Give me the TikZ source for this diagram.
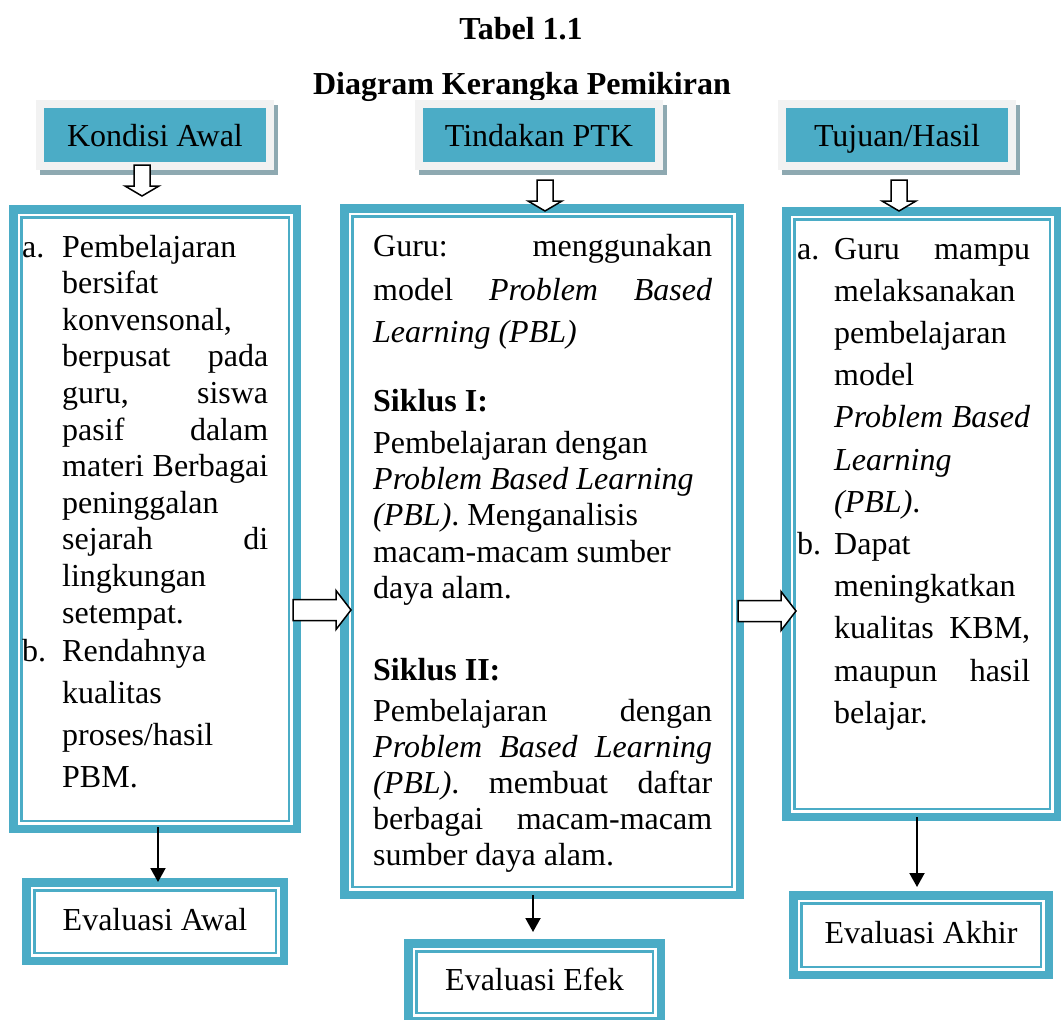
\documentclass[tikz,border=0pt]{standalone}
\usepackage{fontspec}
\setmainfont{Liberation Serif}
\usetikzlibrary{arrows.meta,shadows}

\definecolor{tealc}{HTML}{4BACC6}
\definecolor{framegray}{HTML}{F2F2F2}
\definecolor{shadowgray}{HTML}{8EA9B1}

% justified line inside a p column
\newcommand{\jl}[1]{\makebox[\linewidth][s]{#1}}

\begin{document}
\begin{tikzpicture}[x=1pt, y=-1pt,
    head/.style={fill=tealc, draw=framegray, line width=8pt, minimum height=62pt,
      inner sep=0pt, text height=22pt, text depth=0pt,
      font=\fontsize{32pt}{38pt}\selectfont,
      drop shadow={shadow xshift=4pt, shadow yshift=-5pt, opacity=1,
        fill=shadowgray, draw=shadowgray, line width=8pt}},
    bigbox/.style={draw=tealc, fill=white, line width=8.5pt, inner sep=0pt},
    evalbox/.style={bigbox, text height=17pt, text depth=0pt,
      font=\fontsize{32pt}{38pt}\selectfont},
    bodytext/.style={inner sep=0pt, anchor=base west},
    hollow/.style={draw=black, fill=white, line width=1.5pt, line join=miter},
    link/.style={-{Triangle[width=15pt,length=14pt]}, line width=2pt},
    downblock/.pic={\draw[hollow] (-8,0) -- (8,0) -- (8,21) -- (17,21) -- (0,31)
      -- (-17,21) -- (-8,21) -- cycle;},
    rightblock/.pic={\draw[hollow] (0,-10.5) -- (43,-10.5) -- (43,-19.5) -- (58,0)
      -- (43,19.5) -- (43,10.5) -- (0,10.5) -- cycle;}]

    \useasboundingbox (0,0) rectangle (1061,1020);

    % 1) Title
    \node[font=\bfseries\fontsize{32pt}{38pt}\selectfont, anchor=base] (judul) at (521,39) {Tabel 1.1};
    \node[font=\bfseries\fontsize{32pt}{38pt}\selectfont, anchor=base] (subjudul) at (522,94) {Diagram Kerangka Pemikiran};

    % 2) Column headers
    \node[head, minimum width=230pt] (kondisi) at (155,135) {Kondisi Awal};
    \node[head, minimum width=240pt] (tindakan) at (539,135) {Tindakan PTK};
    \node[head, minimum width=230pt] (tujuan) at (897,135) {Tujuan/Hasil};

    % 3) Main boxes and evaluation boxes
    \node[bigbox, minimum width=283.5pt, minimum height=619.5pt] (kbox) at (155,519) {};
    \node[bigbox, minimum width=395.5pt, minimum height=686.5pt] (tbox) at (542,551.5) {};
    \node[bigbox, minimum width=271.5pt, minimum height=605.5pt] (hbox) at (922,514) {};

    \node[evalbox, minimum width=257.5pt, minimum height=78.5pt] (eawal) at (155,921.5) {Evaluasi Awal};
    \node[evalbox, minimum width=252.5pt, minimum height=77.5pt] (eefek) at (534.5,982) {Evaluasi Efek};
    \node[evalbox, minimum width=255.5pt, minimum height=79.5pt] (eakhir) at (921,935) {Evaluasi Akhir};

    % thin inner frame of every box
    \foreach \bx in {kbox,tbox,hbox,eawal,eefek,eakhir}
      \draw[tealc, line width=2.5pt] ([shift={(12.25pt,-12.25pt)}]\bx.north west) rectangle ([shift={(-12.25pt,12.25pt)}]\bx.south east);

    % 4) Box texts
    \node[bodytext, font=\fontsize{32pt}{36.6pt}\selectfont] (ktext) at (22,257) {%
      \begin{tabular}[t]{@{}p{40pt}@{}p{206pt}@{}}
        a. & Pembelajaran\\
           & bersifat\\
           & konvensonal,\\
           & \jl{berpusat pada}\\
           & \jl{guru, siswa}\\
           & \jl{pasif dalam}\\
           & \jl{materi Berbagai}\\
           & peninggalan\\
           & \jl{sejarah di}\\
           & lingkungan\\
           & setempat.\\[1.4pt]
        b. & Rendahnya\\[5.6pt]
           & kualitas\\[5.6pt]
           & proses/hasil\\[5.6pt]
           & PBM.
      \end{tabular}};

    \node[bodytext, font=\fontsize{32pt}{36.2pt}\selectfont] (ttext) at (373,256) {%
      \begin{tabular}[t]{@{}p{339pt}@{}}
        \jl{Guru: menggunakan}\\[7.8pt]
        \jl{model \textit{Problem Based}}\\[5.8pt]
        \textit{Learning (PBL)}\\[33.3pt]
        \textbf{Siklus I:}\\[5.8pt]
        Pembelajaran dengan\\
        \textit{Problem Based Learning}\\
        \textit{(PBL)}. Menganalisis\\
        macam-macam sumber\\
        daya alam.\\[45.5pt]
        \textbf{Siklus II:}\\[4.8pt]
        \jl{Pembelajaran dengan}\\
        \jl{\textit{Problem Based Learning}}\\
        \jl{\textit{(PBL)}. membuat daftar}\\
        \jl{berbagai macam-macam}\\
        sumber daya alam.
      \end{tabular}};

    \node[bodytext, font=\fontsize{32pt}{42.2pt}\selectfont] (htext) at (797,259) {%
      \begin{tabular}[t]{@{}p{37pt}@{}p{196pt}@{}}
        a. & \jl{Guru mampu}\\
           & melaksanakan\\
           & pembelajaran\\
           & model\\
           & \jl{\textit{Problem Based}}\\
           & \textit{Learning}\\
           & \textit{(PBL)}.\\
        b. & Dapat\\
           & meningkatkan\\
           & \jl{kualitas KBM,}\\
           & \jl{maupun hasil}\\
           & belajar.
      \end{tabular}};

    % 5) Hollow block arrows
    \pic at ([xshift=-13pt,yshift=5pt]kondisi.south) {downblock};
    \pic at ([xshift=6pt,yshift=-10pt]tindakan.south) {downblock};
    \pic at ([xshift=2pt,yshift=-10pt]tujuan.south) {downblock};
    \pic at (293,610) {rightblock};
    \pic at (738,611) {rightblock};

    % 6) Arrows to the evaluation boxes
    \draw[link] ([xshift=3pt,yshift=6pt]kbox.south) -- ([xshift=3pt,yshift=-4pt]eawal.north);
    \draw[link] ([xshift=-9pt,yshift=4pt]tbox.south) -- ([xshift=-1.5pt,yshift=7pt]eefek.north);
    \draw[link] ([xshift=-5pt,yshift=4pt]hbox.south) -- ([xshift=-4pt,yshift=4pt]eakhir.north);
\end{tikzpicture}
\end{document}
